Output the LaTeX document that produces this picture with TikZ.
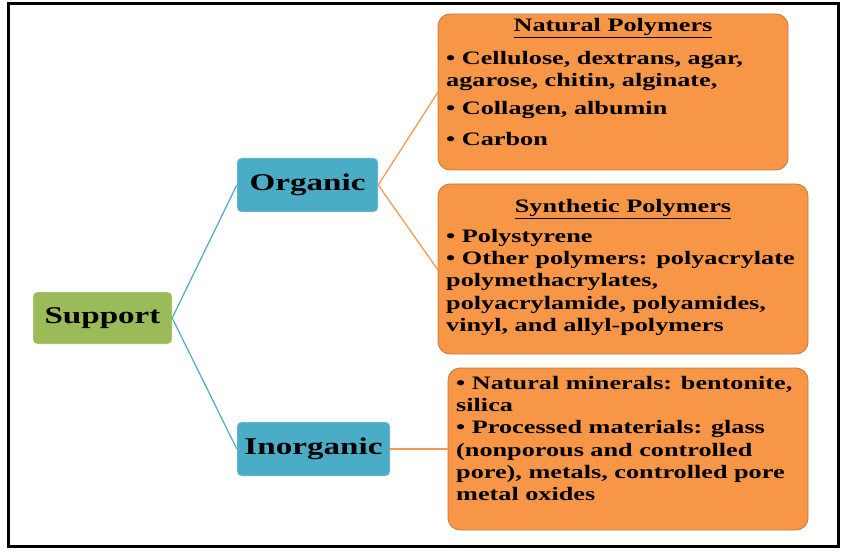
\documentclass[tikz,border=0pt]{standalone}
\usepackage{fontspec}
\setmainfont{Liberation Serif}
\newfontfamily\wide[FakeStretch=1.38]{Liberation Serif}
\begin{document}
\begin{tikzpicture}[x=1pt,y=-1pt,
 txt/.style={font=\wide\bfseries\fontsize{19}{22.3}\selectfont,align=left,anchor=north west,inner sep=0pt},
 lab/.style={draw=white,rounded corners=4pt,font=\wide\bfseries\fontsize{24}{28}\selectfont}]
\useasboundingbox (0,0) rectangle (850,553);
\fill[white] (0,0) rectangle (850,553);
\draw[line width=3pt] (8,4) rectangle (838,546);
\definecolor{teal1}{RGB}{75,172,198}
\definecolor{orng}{RGB}{247,150,70}
\definecolor{grn}{RGB}{155,187,89}
\node[lab,fill=grn,minimum width=139,minimum height=52] (sup) at (102.5,318) {Support};
\node[lab,fill=teal1,minimum width=141,minimum height=54] (org) at (307.5,185) {Organic};
\node[lab,fill=teal1,minimum width=153,minimum height=54] (inorg) at (313.5,449) {Inorganic};
\draw[orng!80!black,line width=0.8pt,fill=orng,rounded corners=12pt] (438,14) rectangle (788,170);
\draw[orng!80!black,line width=0.8pt,fill=orng,rounded corners=12pt] (438,184) rectangle (808,354);
\draw[orng!80!black,line width=0.8pt,fill=orng,rounded corners=12pt] (448,368) rectangle (808,530);
\coordinate (nat) at (438,92);
\coordinate (syn) at (438,270);
\coordinate (ino) at (448,449);
\draw[teal1,line width=1.2pt] (sup.east) -- (org.west);
\draw[teal1,line width=1.2pt] (sup.east) -- (inorg.west);
\draw[orng,line width=1.2pt] (org.east) -- (nat);
\draw[orng,line width=1.2pt] (org.east) -- (syn);
\draw[orng,line width=1.2pt] (inorg.east) -- (ino);
\node[txt,anchor=north] (h1) at (613,18) {\underline{Natural Polymers}};
\node[txt] (t1) at (446,51) {• Cellulose, dextrans, agar,\\agarose, chitin, alginate,\\[6pt]• Collagen, albumin\\[8pt]• Carbon};
\node[txt,anchor=north] (h2) at (623,199) {\underline{Synthetic Polymers}};
\node[txt] (t2) at (446,229) {• Polystyrene\\• Other polymers: polyacrylate\\polymethacrylates,\\polyacrylamide, polyamides,\\vinyl, and allyl-polymers};
\node[txt] (t3) at (456,376) {• Natural minerals: bentonite,\\silica\\• Processed materials: glass\\(nonporous and controlled\\pore), metals, controlled pore\\metal oxides};
\end{tikzpicture}
\end{document}
